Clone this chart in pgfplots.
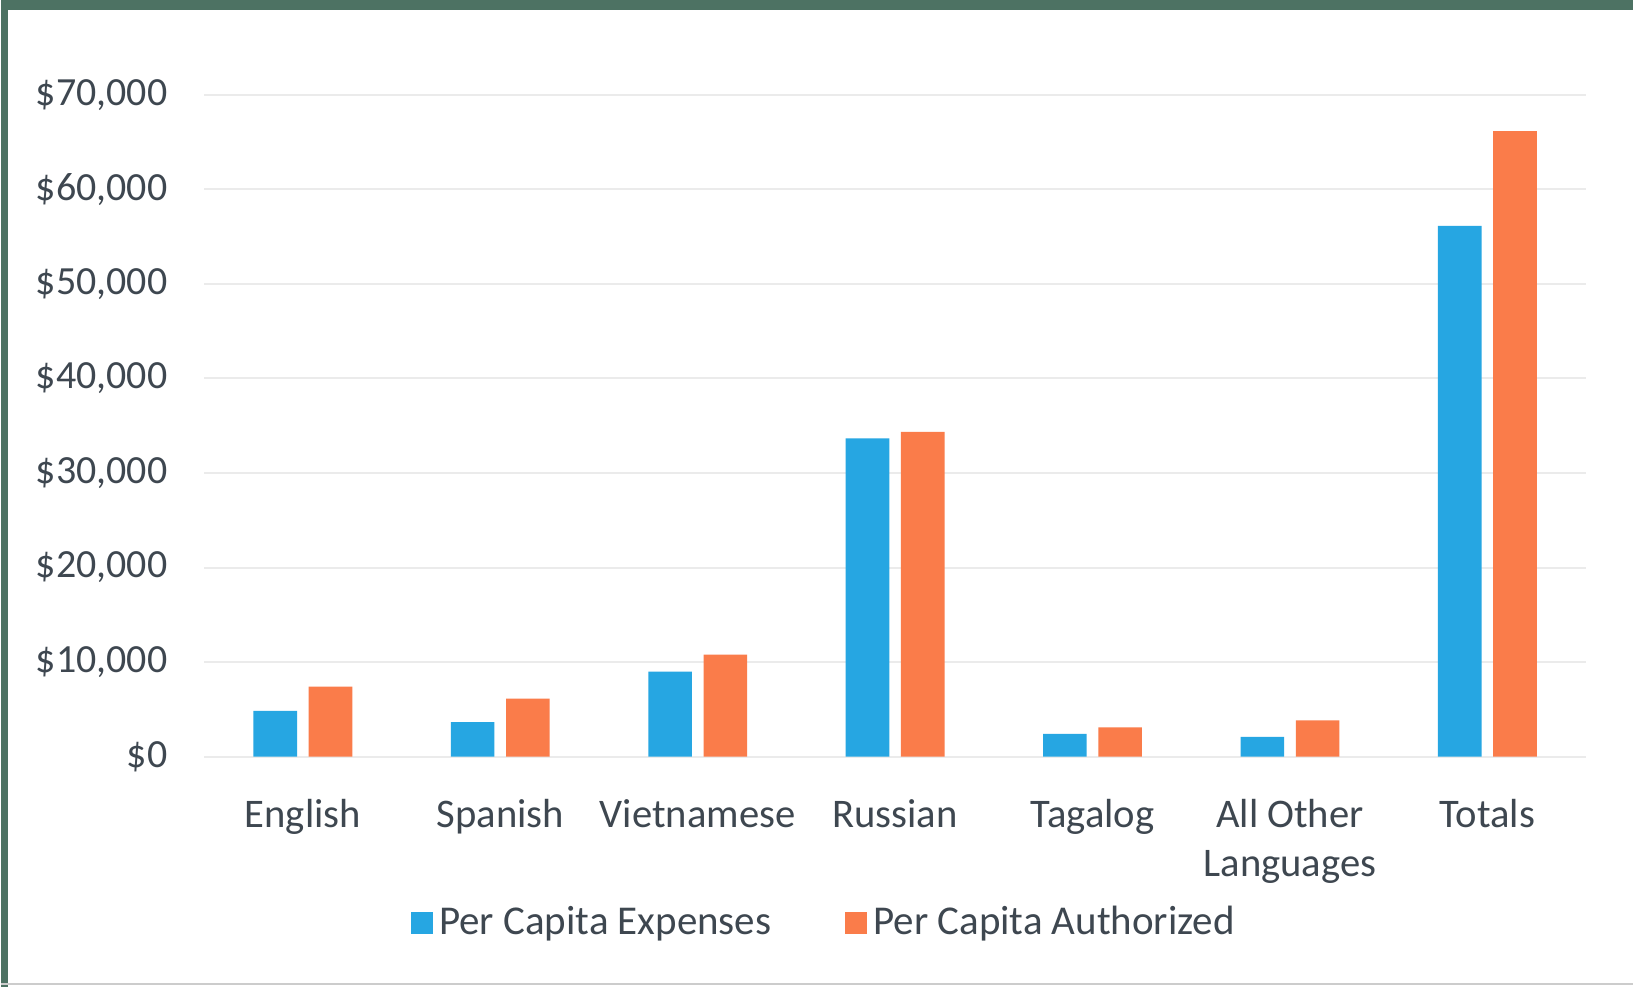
\documentclass[border=0pt]{standalone}
\usepackage{pgfplots}
\pgfplotsset{compat=1.18}
\usepackage{fontspec}
\setmainfont{Carlito}
\definecolor{cblue}{HTML}{26A6E2}
\definecolor{corange}{HTML}{FA7C4A}
\definecolor{ctext}{HTML}{3E4750}
\definecolor{cframe}{HTML}{4D7263}
\definecolor{cgrid}{HTML}{EBEBEB}
\begin{document}
\begin{tikzpicture}
\fill[white] (0,0) rectangle (490.2pt,296.4pt);
\begin{axis}[
  at={(61.02pt,69.12pt)}, anchor=south west,
  scale only axis, width=415.1pt, height=198.8pt,
  xmin=-0.5, xmax=6.5, ymin=0, ymax=70000,
  scaled y ticks=false,
  ybar, bar width=13.1pt,
  xtick={0,...,6},
  xticklabels={English,Spanish,Vietnamese,Russian,Tagalog,{All Other\\Languages},Totals},
  ytick={0,10000,...,70000},
  yticklabels={{\$0},{\$10,000},{\$20,000},{\$30,000},{\$40,000},{\$50,000},{\$60,000},{\$70,000}},
  axis line style={draw=none},
  tick style={draw=none},
  ymajorgrids, major grid style={cgrid, line width=0.6pt},
  xticklabel style={font=\fontsize{12.2}{14.7}\selectfont, text=ctext, align=center, yshift=-5pt},
  yticklabel style={font=\fontsize{12}{14.7}\selectfont, text=ctext, xshift=-7.5pt},
  legend style={at={(0.45,-0.2515)}, anchor=center, draw=none, fill=none,
    font=\fontsize{12.3}{14.7}\selectfont, text=ctext,
    /tikz/every even column/.append style={column sep=20pt}},
  legend columns=2,
  legend image code/.code={\fill[#1] (0pt,-3.3pt) rectangle (6.6pt,3.3pt);},
]
\addplot[fill=cblue, draw=none, bar shift=-8.3pt] coordinates {
  (0,4850) (1,3650) (2,9000) (3,33650) (4,2400) (5,2100) (6,56150)};
\addlegendentry{Per Capita Expenses}
\addplot[fill=corange, draw=none, bar shift=8.3pt] coordinates {
  (0,7400) (1,6150) (2,10800) (3,34350) (4,3100) (5,3850) (6,66150)};
\addlegendentry{Per Capita Authorized}
\end{axis}
\fill[cframe] (0,0) rectangle (2.1pt,296.4pt);
\fill[cframe] (0,293.4pt) rectangle (490.2pt,296.4pt);
\draw[gray!40, line width=0.6pt] (0,0.9pt) -- (490.2pt,0.9pt);
\end{tikzpicture}
\end{document}
